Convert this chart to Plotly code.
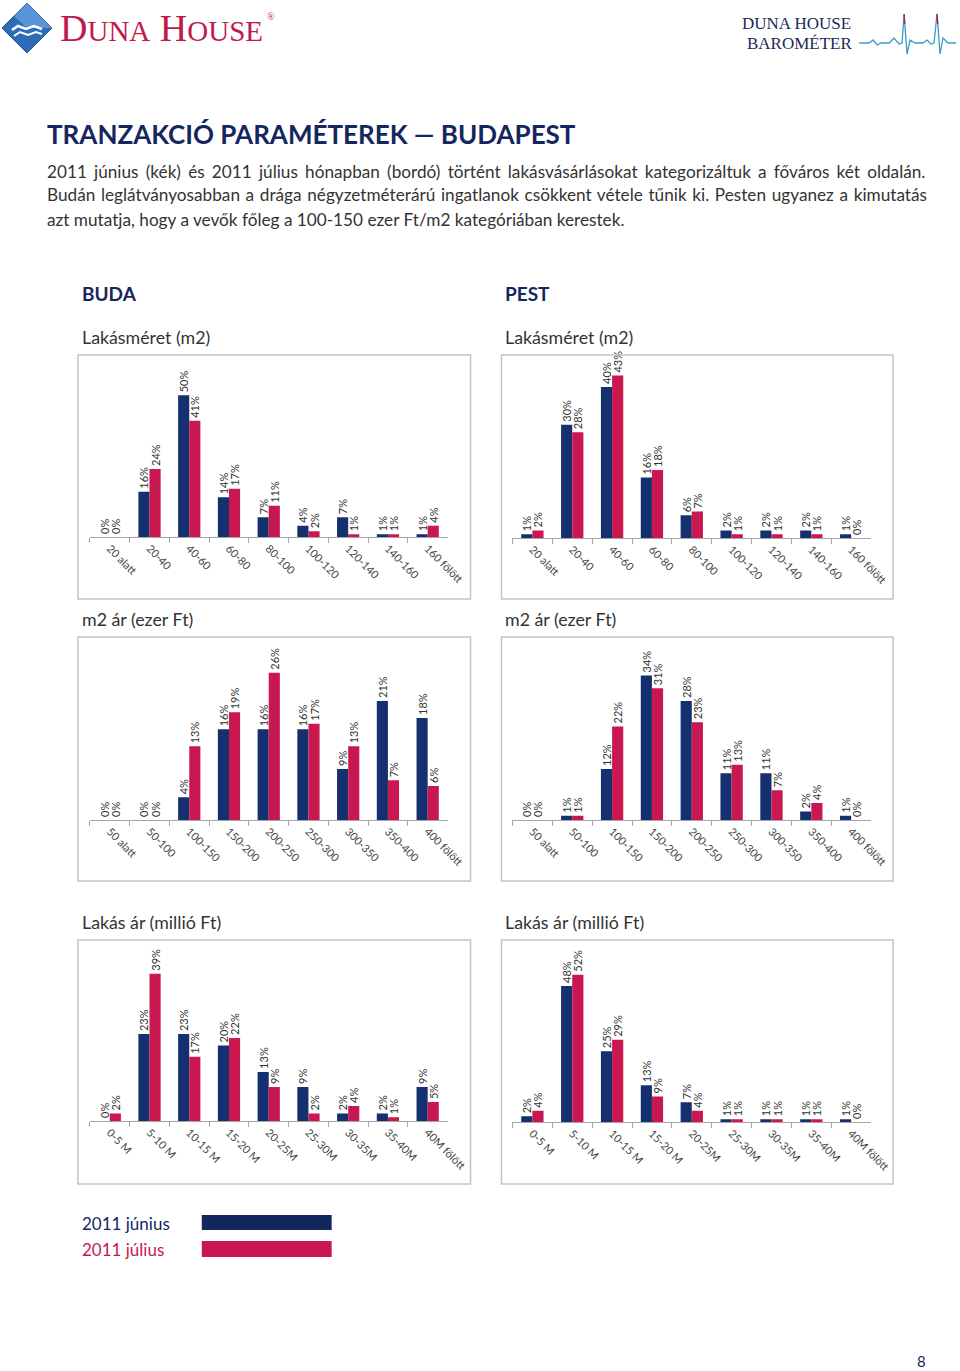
import plotly.graph_objects as go

# ---------------- data ----------------
size_cats = ["20 alatt", "20-40", "40-60", "60-80", "80-100", "100-120", "120-140", "140-160", "160 fölött"]
m2_cats = ["50 alatt", "50-100", "100-150", "150-200", "200-250", "250-300", "300-350", "350-400", "400 fölött"]
price_cats = ["0-5 M", "5-10 M", "10-15 M", "15-20 M", "20-25M", "25-30M", "30-35M", "35-40M", "40M fölött"]

buda_size_jun = [0, 16, 50, 14, 7, 4, 7, 1, 1]
buda_size_jul = [0, 24, 41, 17, 11, 2, 1, 1, 4]
pest_size_jun = [1, 30, 40, 16, 6, 2, 2, 2, 1]
pest_size_jul = [2, 28, 43, 18, 7, 1, 1, 1, 0]

buda_m2_jun = [0, 0, 4, 16, 16, 16, 9, 21, 18]
buda_m2_jul = [0, 0, 13, 19, 26, 17, 13, 7, 6]
pest_m2_jun = [0, 1, 12, 34, 28, 11, 11, 2, 1]
pest_m2_jul = [0, 1, 22, 31, 23, 13, 7, 4, 0]

buda_price_jun = [0, 23, 23, 20, 13, 9, 2, 2, 9]
buda_price_jul = [2, 39, 17, 22, 9, 2, 4, 1, 5]
pest_price_jun = [2, 48, 25, 13, 7, 1, 1, 1, 1]
pest_price_jul = [4, 52, 29, 9, 4, 1, 1, 1, 0]

# value-axis maxima of the six charts (%), as in the original spreadsheet charts
axis_max = [60, 45, 30, 40, 45, 60]

series_names = ["2011 június", "2011 július"]

# ---------------- styling ----------------
W, H = 960, 1371          # reference page size (layout grid)
FIG_W = 980               # rendered page width (viewport is captured slightly wider)
NAVY = "#14306f"
CRIMSON = "#c8184f"
TXT = "#333333"
FONT = "Lato"


def X(p):
    return p / W


def Y(p):
    return 1 - p / H


def path(points, close=False):
    s = "M " + " L ".join(f"{X(a):.5f},{Y(b):.5f}" for a, b in points)
    return s + (" Z" if close else "")


fig = go.Figure()

charts = [
    (size_cats, buda_size_jun, buda_size_jul, (90, 448), 537),
    (size_cats, pest_size_jun, pest_size_jul, (513, 872), 538),
    (m2_cats, buda_m2_jun, buda_m2_jul, (90, 448), 820),
    (m2_cats, pest_m2_jun, pest_m2_jul, (513, 872), 820),
    (price_cats, buda_price_jun, buda_price_jul, (90, 448), 1121),
    (price_cats, pest_price_jun, pest_price_jul, (513, 872), 1122),
]

layout_axes = {}
for i, (cats, jun, jul, (x0, x1), base) in enumerate(charts):
    n = i + 1
    xa = "x" if n == 1 else f"x{n}"
    ya = "y" if n == 1 else f"y{n}"
    for vals, col, name in ((jun, NAVY, series_names[0]), (jul, CRIMSON, series_names[1])):
        fig.add_trace(go.Bar(
            x=cats, y=vals, name=name, xaxis=xa, yaxis=ya,
            marker=dict(color=col, line=dict(width=0)),
            text=[f"{v}%" for v in vals], textposition="outside", textangle=-90,
            textfont=dict(family=FONT, size=11, color=TXT),
            cliponaxis=False, constraintext="none", showlegend=False,
            hovertemplate="%{x}: %{y}%<extra>" + name + "</extra>",
        ))
    layout_axes["xaxis" if n == 1 else f"xaxis{n}"] = dict(
        domain=[X(x0), X(x1)], anchor=ya, type="category",
        showline=True, linecolor="#a6a6a6", linewidth=1,
        ticks="outside", tickson="boundaries", ticklen=5, tickcolor="#a6a6a6",
        tickangle=45, tickfont=dict(family=FONT, size=11, color="#444"),
        showgrid=False, zeroline=False,
    )
    layout_axes["yaxis" if n == 1 else f"yaxis{n}"] = dict(
        domain=[Y(base), Y(base - 170)], anchor=xa, range=[0, axis_max[i]],
        visible=False, showgrid=False, zeroline=False,
    )

fig.update_layout(**layout_axes)

shapes = []
# chart frames
for (bx0, bx1) in ((78, 471), (502, 894)):
    for (by0, by1) in ((355, 599), (637, 881), (940, 1184)):
        shapes.append(dict(type="rect", xref="paper", yref="paper",
                           x0=X(bx0), x1=X(bx1), y0=Y(by1), y1=Y(by0),
                           line=dict(color="#c4c4c4", width=1.5), fillcolor="rgba(0,0,0,0)"))

# legend swatches
shapes.append(dict(type="rect", xref="paper", yref="paper", x0=X(202), x1=X(332), y0=Y(1230), y1=Y(1215),
                   line=dict(width=0), fillcolor="#13275f"))
shapes.append(dict(type="rect", xref="paper", yref="paper", x0=X(202), x1=X(332), y0=Y(1257), y1=Y(1241),
                   line=dict(width=0), fillcolor=CRIMSON))

# logo diamond
shapes.append(dict(type="path", xref="paper", yref="paper",
                   path=path([(27, 3), (52, 28), (27, 53), (2, 28)], close=True),
                   fillcolor="#2e6cb8", line=dict(color="#1d4f93", width=1)))
shapes.append(dict(type="path", xref="paper", yref="paper",
                   path=path([(27, 3), (52, 28), (27, 28), (14, 16)], close=True),
                   fillcolor="#5b94d6", line=dict(width=0)))
shapes.append(dict(type="path", xref="paper", yref="paper",
                   path=path([(12, 30), (18, 26), (26, 29), (34, 26), (42, 29)]),
                   line=dict(color="white", width=2.5)))
shapes.append(dict(type="path", xref="paper", yref="paper",
                   path=path([(14, 36), (20, 32), (28, 35), (36, 32), (42, 34)]),
                   line=dict(color="white", width=2)))

# heartbeat line
hb = [(860, 43), (870, 43), (874, 40), (878, 45), (882, 43), (890, 43), (895, 38), (900, 44), (903, 43),
      (905, 14), (908, 54), (911, 40), (916, 43), (924, 43), (928, 40), (932, 44), (935, 43),
      (938, 14), (941, 54), (944, 38), (949, 43), (957, 43)]
shapes.append(dict(type="path", xref="paper", yref="paper", path=path(hb),
                   line=dict(color="#3b9bc4", width=1.3)))
shapes.append(dict(type="path", xref="paper", yref="paper", path=path([(905, 14), (905.6, 24)]),
                   line=dict(color="#c8184f", width=1.5)))
shapes.append(dict(type="path", xref="paper", yref="paper", path=path([(938, 14), (938.6, 24)]),
                   line=dict(color="#c8184f", width=1.5)))

ann = []


def text(x, y, s, size, color=TXT, family=FONT, xanchor="left", yanchor="middle"):
    ann.append(dict(x=X(x), y=Y(y), xref="paper", yref="paper", text=s, showarrow=False,
                    xanchor=xanchor, yanchor=yanchor, align="left",
                    font=dict(family=family, size=size, color=color)))


# header
text(58, 28, "D<span style='font-size:29px'>UNA</span> H<span style='font-size:29px'>OUSE</span>", 38,
     color="#c01a4c", family="Liberation Serif")
text(265, 17, "®", 10, color="#c01a4c", family="Liberation Serif")
text(741, 24, "DUNA HOUSE", 17, color="#1b2a5a", family="Liberation Serif")
text(746, 44, "BAROMÉTER", 17, color="#1b2a5a", family="Liberation Serif")

# title and intro (first two lines justified via word spacing)
text(45, 134, "<b>TRANZAKCIÓ PARAMÉTEREK — BUDAPEST</b>", 26, color="#15265e")
text(45, 172, "<span style='word-spacing:2.8px'>2011 június (kék) és 2011 július hónapban (bordó) történt "
     "lakásvásárlásokat kategorizáltuk a főváros két oldalán.</span>", 17.2)
text(45, 195, "<span style='word-spacing:1.25px'>Budán leglátványosabban a drága négyzetméterárú ingatlanok "
     "csökkent vétele tűnik ki. Pesten ugyanez a kimutatás</span>", 17.2)
text(45, 219, "azt mutatja, hogy a vevők főleg a 100-150 ezer Ft/m2 kategóriában kerestek.", 17.2)

# section heads
text(80, 293, "<b>BUDA</b>", 19, color="#15265e")
text(504, 293, "<b>PEST</b>", 19, color="#15265e")
for xx in (80, 504):
    text(xx, 337, "Lakásméret (m2)", 17.8)
    text(xx, 619, "m2 ár (ezer Ft)", 17.8)
    text(xx, 922, "Lakás ár (millió Ft)", 17.8)

# legend text
text(80, 1223, series_names[0], 17, color="#13275f")
text(80, 1249, series_names[1], 17, color=CRIMSON)

# page number
text(922, 1361, "8", 15, color="#15265e", xanchor="center")

fig.update_layout(
    width=FIG_W, height=H, autosize=False, margin=dict(l=0, r=0, t=0, b=0),
    paper_bgcolor="white", plot_bgcolor="white",
    barmode="group", bargap=0.44, bargroupgap=0,
    shapes=shapes, annotations=ann, showlegend=False,
    font=dict(family=FONT),
)

fig.write_html(
    "out.html",
    config={"responsive": False, "displayModeBar": False},
    post_script="document.body.style.margin='0';document.body.style.padding='0';"
                "document.body.style.overflow='hidden';document.documentElement.style.overflow='hidden';",
)
